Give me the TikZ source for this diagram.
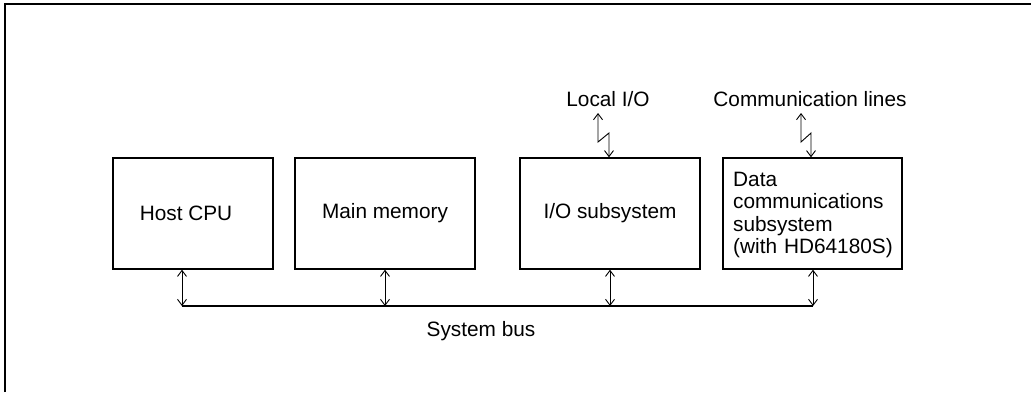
\documentclass[tikz,border=0pt]{standalone}
\usepackage{fontspec}
\setmainfont{Liberation Sans}
\usetikzlibrary{arrows.meta}
\begin{document}
\begin{tikzpicture}[x=1pt,y=-1pt,
  every node/.style={font=\fontsize{20.8}{22.5}\selectfont, inner sep=0pt},
  blk/.style={draw, line width=1.4pt, minimum height=111pt},
  frameline/.style={line width=2pt},
  link/.style={line width=0.9pt, {Straight Barb[length=6pt,width=9pt]}-{Straight Barb[length=6pt,width=9pt]}},
  busline/.style={line width=1.4pt}
]
\useasboundingbox (0,0) rectangle (1031,392);
% frame (top and left edges)
\draw[frameline] (5,392) -- (5,4) -- (1031,4);
% blocks
\node[blk, minimum width=160pt] (cpu) at (193,213.5) {};
\node at (186,213.5) {Host CPU};
\node[blk, minimum width=180pt] (mem) at (385,213.5) {Main memory};
\node[blk, minimum width=180pt] (io) at (610,213.5) {I/O subsystem};
\node[blk, minimum width=179pt] (dc) at (812.5,213.5) {};
\node[anchor=west, align=left, text width=170pt] (dct) at (733,215) {Data\\communications\\subsystem\\(with HD64180S)};
% bus
\coordinate (b1) at (182,306);
\coordinate (b2) at (385,306);
\coordinate (b3) at (610,306);
\coordinate (b4) at (813,306);
\draw[busline] (b1) -- (b4);
\draw[link] (cpu.south -| b1) -- (b1);
\draw[link] (mem.south -| b2) -- (b2);
\draw[link] (io.south -| b3) -- (b3);
\draw[link] (dc.south -| b4) -- (b4);
\node (bus) at (481,331) {System bus};
% labels and lightning links
\node (lio) at (608,99) {Local I/O};
\node (cl) at (810,99) {Communication lines};
\coordinate (lt) at (598,113);
\coordinate (ct) at (801,113);
\draw[link] (lt) -- (598,142) -- (609,133) -- (io.north -| 609,0);
\draw[link] (ct) -- (801,142) -- (811,133) -- (dc.north -| 811,0);
\end{tikzpicture}
\end{document}
